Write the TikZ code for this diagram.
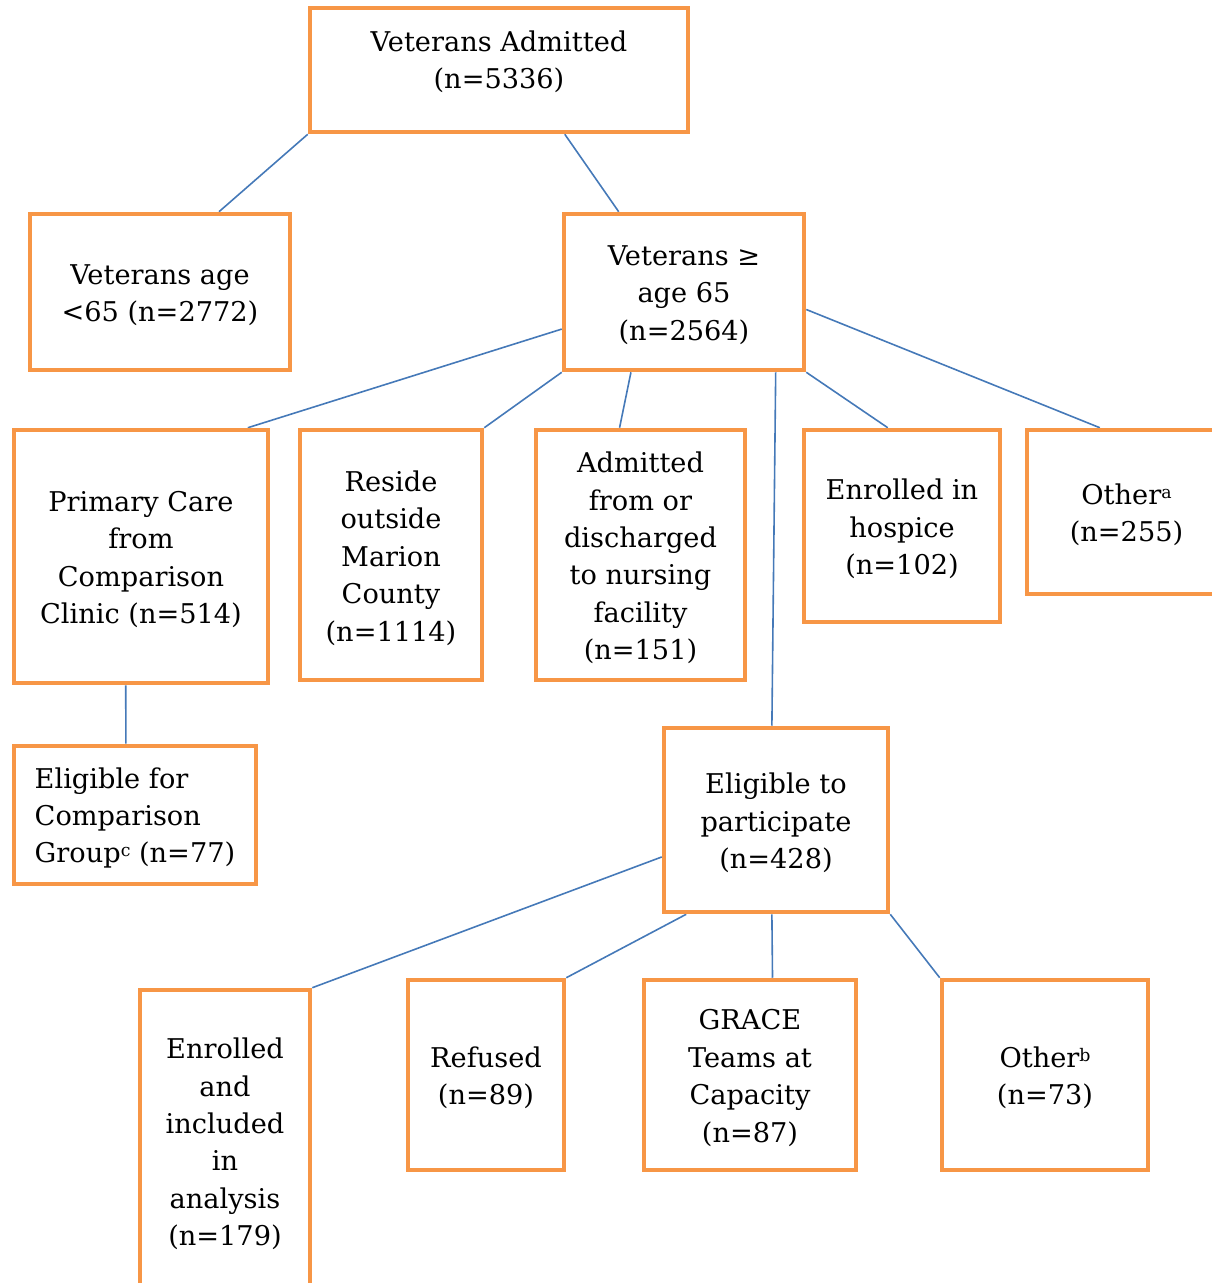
\documentclass[tikz,border=0pt]{standalone}
\usepackage{fontspec}
\setmainfont{DejaVu Serif}
\usetikzlibrary{calc,backgrounds}
\definecolor{boxorange}{HTML}{F79646}
\definecolor{lineblue}{HTML}{4579B8}
\newcommand\bx[6]{%
  \pgfmathsetmacro\bxcx{(#2+#4)/2}%
  \pgfmathsetmacro\bxcy{(#3+#5)/2}%
  \pgfmathsetmacro\bxw{(#4-#2)*0.75}%
  \pgfmathsetmacro\bxh{(#5-#3)*0.75}%
  \node[box, minimum width=\bxw pt, minimum height=\bxh pt] (#1) at (\bxcx,\bxcy) {};
  \node[txt] (#1t) at (\bxcx,\bxcy+3) {#6};}
\tikzset{
  box/.style={draw=boxorange, line width=3.4pt, fill=white, inner sep=0pt},
  conn/.style={draw=lineblue, line width=1.2pt},
  txt/.style={align=center, inner sep=0pt, font=\fontsize{20.4pt}{28.1pt}\selectfont}
}
\newcommand\sups[1]{\raisebox{0.45ex}{\fontsize{13pt}{13pt}\selectfont #1}}
\begin{document}
\begin{tikzpicture}[x=0.75pt,y=-0.75pt]
\useasboundingbox (0,0) rectangle (1212,1283);
\clip (0,0) rectangle (1212,1283);
\bx{top}{310}{8}{688}{132}{}
\node[txt] (toptext) at (499,62) {Veterans Admitted\\(n=5336)};
\bx{lt}{30}{214}{290}{370}{Veterans age\\<65 (n=2772)}
\bx{ge}{564}{214}{804}{370}{Veterans ≥\\age 65\\(n=2564)}
\bx{pc}{14}{430}{268}{683}{Primary Care\\from\\Comparison\\Clinic (n=514)}
\bx{rs}{300}{430}{482}{680}{Reside\\outside\\Marion\\County\\(n=1114)}
\bx{ad}{536}{430}{745}{680}{Admitted\\from or\\discharged\\to nursing\\facility\\(n=151)}
\bx{hs}{804}{430}{1000}{622}{Enrolled in\\hospice\\(n=102)}
\bx{oa}{1027}{430}{1226}{594}{Other\sups{a}\\(n=255)}
\bx{ec}{14}{746}{256}{884}{\begin{tabular}{@{}l@{}}Eligible for\\Comparison\\Group\sups{c} (n=77)\end{tabular}}
\bx{ep}{664}{728}{888}{912}{Eligible to\\participate\\(n=428)}
\bx{en}{140}{990}{310}{1292}{Enrolled\\and\\included\\in\\analysis\\(n=179)}
\bx{rf}{408}{980}{564}{1170}{Refused\\(n=89)}
\bx{gr}{644}{980}{856}{1170}{GRACE\\Teams at\\Capacity\\(n=87)}
\bx{ob}{942}{980}{1148}{1170}{Other\sups{b}\\(n=73)}
\begin{scope}[on background layer]
\draw[conn] (top.south west) -- ($(lt.north west)!0.723!(lt.north east)$);
\draw[conn] ($(top.south west)!0.672!(top.south east)$) -- ($(ge.north west)!0.233!(ge.north east)$);
\draw[conn] ($(ge.north west)!0.731!(ge.south west)$) -- ($(pc.north west)!0.913!(pc.north east)$);
\draw[conn] (ge.south west) -- (rs.north east);
\draw[conn] ($(ge.south west)!0.283!(ge.south east)$) -- ($(ad.north west)!0.402!(ad.north east)$);
\draw[conn] ($(ge.south west)!0.875!(ge.south east)$) -- ($(ep.north west)!0.482!(ep.north east)$);
\draw[conn] (ge.south east) -- ($(hs.north west)!0.429!(hs.north east)$);
\draw[conn] ($(ge.north east)!0.609!(ge.south east)$) -- ($(oa.north west)!0.369!(oa.north east)$);
\draw[conn] ($(pc.south west)!0.441!(pc.south east)$) -- ($(ec.north west)!0.463!(ec.north east)$);
\draw[conn] ($(ep.north west)!0.696!(ep.south west)$) -- (en.north east);
\draw[conn] ($(ep.south west)!0.107!(ep.south east)$) -- (rf.north east);
\draw[conn] ($(ep.south west)!0.482!(ep.south east)$) -- ($(gr.north west)!0.604!(gr.north east)$);
\draw[conn] (ep.south east) -- (ob.north west);
\end{scope}
\end{tikzpicture}
\end{document}
